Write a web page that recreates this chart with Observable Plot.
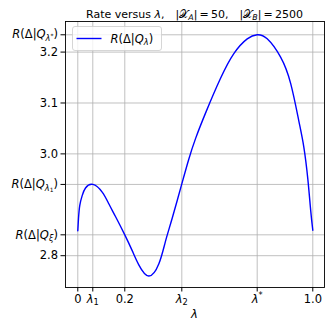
<!DOCTYPE html>
<html>
<head>
<meta charset="utf-8">
<script src="https://cdn.jsdelivr.net/npm/d3@7"></script>
<script src="https://cdn.jsdelivr.net/npm/@observablehq/plot@0.6"></script>
<style>
  html, body { margin: 0; padding: 0; background: white; }
  #chart svg { display: block; }
</style>
</head>
<body>
<div id="chart"></div>
<script>
// ---- data ----
const lambdaValues = [0, 0.003, 0.0085, 0.0187, 0.0328, 0.0638, 0.1038, 0.132, 0.1604, 0.2, 0.2315, 0.2596, 0.302, 0.345, 0.373, 0.402, 0.4426, 0.472, 0.501, 0.547, 0.607, 0.664, 0.721, 0.7634, 0.806, 0.863, 0.906, 0.940, 0.962, 0.979, 0.991, 1.0];
const rateValues   = [2.849, 2.873, 2.899, 2.918, 2.933, 2.940, 2.925, 2.902, 2.877, 2.841, 2.810, 2.782, 2.760, 2.784, 2.828, 2.874, 2.941, 2.989, 3.030, 3.084, 3.148, 3.197, 3.226, 3.234, 3.226, 3.190, 3.138, 3.066, 3.013, 2.950, 2.889, 2.850];

const xTickValues = [0, 0.0638, 0.2, 0.4426, 0.7634, 1.0];
const xTickLabels = ["0", "$λ_1$", "0.2", "$λ_2$", "$λ^*$", "1.0"];
const yTickValues = [2.8, 2.841, 2.940, 3.0, 3.1, 3.2, 3.234];
const yTickLabels = ["2.8", "$R(Δ|Q_ξ)$", "$R(Δ|Q_{λ_1})$", "3.0", "3.1", "3.2", "$R(Δ|Q_{λ^*})$"];

const titleText = "Rate versus $λ$,\u2003$|𝒳_A|\u2009=\u200950$,\u2003$|𝒳_B|\u2009=\u20092500$";
const xLabelText = "$λ$";
const seriesName = "$R(Δ|Q_λ)$";

const data = lambdaValues.map((l, i) => ({lam: l, R: rateValues[i]}));

// ---- mini math renderer (subscripts / superscripts via tspans) ----
function parseMath(s, math, shift, scale, out) {
  const chars = Array.from(s);
  let i = 0;
  while (i < chars.length) {
    const c = chars[i];
    if (c === "$") { math = !math; i++; continue; }
    if (math && (c === "_" || c === "^")) {
      i++;
      let arg;
      if (chars[i] === "{") {
        let depth = 1, j = i + 1;
        while (depth) { if (chars[j] === "{") depth++; else if (chars[j] === "}") depth--; j++; }
        arg = chars.slice(i + 1, j - 1).join("");
        i = j;
      } else { arg = chars[i]; i++; }
      const ns = c === "_" ? shift + 0.22 * scale : shift - 0.38 * scale;
      parseMath(arg, true, ns, scale * 0.72, out);
      continue;
    }
    const italic = math && /[A-Za-zα-ω]/.test(c);
    out.push({c, shift, scale, italic});
    i++;
  }
  return out;
}
function renderMath(textEl, str, fontSize) {
  const glyphs = parseMath(str, false, 0, 1, []);
  const t = d3.select(textEl);
  t.text(null);
  let prev = 0;
  let run = null;
  const flush = () => {
    if (!run) return;
    const ts = t.append("tspan").text(run.s);
    const dy = (run.shift - prev) * fontSize;
    if (dy !== 0) ts.attr("dy", dy.toFixed(2));
    if (run.scale !== 1) ts.attr("font-size", (run.scale * fontSize).toFixed(2));
    if (run.italic) ts.attr("font-style", "italic");
    prev = run.shift;
    run = null;
  };
  for (const g of glyphs) {
    if (run && run.shift === g.shift && run.scale === g.scale && run.italic === g.italic) run.s += g.c;
    else { flush(); run = {s: g.c, shift: g.shift, scale: g.scale, italic: g.italic}; }
  }
  flush();
}

const FS = 11.5;
const grid = {stroke: "#b0b0b0", strokeOpacity: 1, strokeWidth: 0.8};

const chart = Plot.plot({
  width: 332,
  height: 332,
  marginTop: 21,
  marginBottom: 45,
  marginLeft: 65,
  marginRight: 8,
  style: {fontFamily: "DejaVu Sans", fontSize: FS + "px", background: "white", color: "black", overflow: "visible"},
  x: {domain: [-0.0523, 1.0498]},
  y: {domain: [2.7375, 3.2601]},
  marks: [
    Plot.gridX(xTickValues, grid),
    Plot.gridY(yTickValues, grid),
    Plot.line(data, {x: "lam", y: "R", stroke: "#0000ff", strokeWidth: 1.4, curve: "natural"}),
    Plot.axisX(xTickValues, {tickFormat: d => "§x" + xTickValues.indexOf(d), tickSize: 4.5, tickPadding: 2.5, label: null}),
    Plot.axisY(yTickValues, {tickFormat: d => "§y" + yTickValues.indexOf(d), tickSize: 4.5, tickPadding: 3, label: null}),
    Plot.frame({stroke: "#000", strokeWidth: 0.9})
  ]
});
document.getElementById("chart").appendChild(chart);

const svg = d3.select(chart);
svg.selectAll("text").each(function () {
  const s = this.textContent;
  if (s.startsWith("§x")) renderMath(this, xTickLabels[+s.slice(2)], FS);
  else if (s.startsWith("§y")) renderMath(this, yTickLabels[+s.slice(2)], FS);
});

// title
const TFS = 11;
const title = svg.append("text")
  .attr("x", 194.5).attr("y", 18)
  .attr("text-anchor", "middle")
  .attr("font-size", TFS).attr("fill", "black");
renderMath(title.node(), titleText, TFS);

// x label
const xl = svg.append("text")
  .attr("x", 194.5).attr("y", 318)
  .attr("text-anchor", "middle")
  .attr("font-size", FS).attr("fill", "black");
renderMath(xl.node(), xLabelText, FS);

// legend
const lg = svg.append("g");
const lrect = lg.append("rect").attr("x", 72.5).attr("y", 26.5).attr("width", 89).attr("height", 24).attr("rx", 2.5)
  .attr("fill", "white").attr("fill-opacity", 0.8).attr("stroke", "#cccccc").attr("stroke-width", 0.8);
lg.append("line").attr("x1", 76.5).attr("x2", 101.5).attr("y1", 38.5).attr("y2", 38.5)
  .attr("stroke", "#0000ff").attr("stroke-width", 1.4);
const lt = lg.append("text").attr("x", 110.5).attr("y", 42.5).attr("text-anchor", "start")
  .attr("font-size", FS).attr("fill", "black");
renderMath(lt.node(), seriesName, FS);
const bb = lt.node().getBBox();
lrect.attr("width", Math.max(89, bb.x + bb.width + 4 - 72.5));
</script>
</body>
</html>
